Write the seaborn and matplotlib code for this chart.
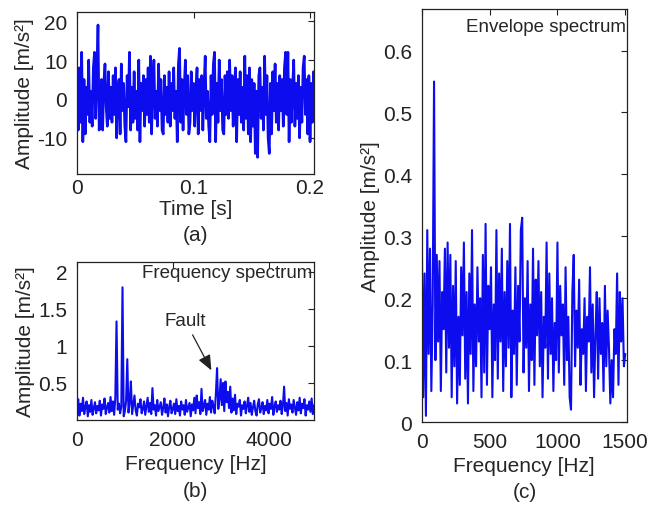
import numpy as np
import matplotlib
matplotlib.use("Agg")
import matplotlib.pyplot as plt
import seaborn as sns

# (a) vibration signal, one sample per ms
time_step = 0.001
signal = [
    7, -8, 8, -6, 12, -11, 5, -9, 3, -4,
    10, -6, 2, -7, 8, 12, -5, 6, 19, -8,
    -3, 5, -8, 4, 9, -2, -7, 7, -5, 3,
    -6, 6, -4, 8, -10, 2, 5, -9, 9, -3,
    4, -7, -11, 6, -2, 12, -8, 3, -6, 7,
    -5, 2, -8, 10, -11, 4, -3, 6, -7, 5,
    -4, 8, -6, 11, -9, 4, 10, -5, 2, -7,
    9, -3, 5, -8, -9, 6, -4, 3, -6, 7,
    -7, 4, -3, 8, -5, 2, -11, 9, 13, -6,
    5, -8, 3, 10, -4, 6, -9, -6, 7, -3,
    4, -7, 2, 8, -9, 5, -3, 6, -8, 3,
    11, -5, 2, -7, -11, 6, -4, 9, 12, -11,
    4, -6, 10, -3, 5, -8, -9, 6, -4, 7,
    -5, 10, -3, 6, -7, 3, 8, -11, 5, -4,
    7, -6, 3, -8, 11, -5, 6, -9, 8, -11,
    5, -7, 4, -14, 2, -15, 6, 8, -5, 3,
    -8, 11, -4, 6, -10, -14, 4, -9, 7, -3,
    9, -6, 4, -8, 6, -3, 5, -7, 8, 12,
    -4, 12, -11, 5, -6, 3, 10, -7, 4, -5,
    6, -10, 3, -6, 8, 11, -4, 5, -9, 6,
    -11, 4, -6, 7, 3,
]

# (b) frequency spectrum, 25 Hz bins
spec_step = 25
spectrum = [
    0.15, 0.28, 0.06, 0.22, 0.12, 0.30, 0.08, 0.18, 0.25, 0.05,
    0.20, 0.11, 0.27, 0.07, 0.16, 0.24, 0.09, 0.19, 0.13, 0.26,
    0.06, 0.21, 0.15, 0.29, 0.08, 0.17, 0.23, 0.10, 0.31, 0.12,
    0.25, 0.07, 0.30, 1.33, 0.14, 0.22, 0.09, 0.18, 1.79, 0.05,
    0.12, 0.26, 0.82, 0.10, 0.24, 0.52, 0.08, 0.20, 0.33, 0.13,
    0.06, 0.22, 0.17, 0.28, 0.09, 0.15, 0.25, 0.07, 0.19, 0.30,
    0.11, 0.23, 0.08, 0.43, 0.14, 0.20, 0.06, 0.27, 0.12, 0.18,
    0.24, 0.07, 0.16, 0.29, 0.10, 0.21, 0.05, 0.18, 0.26, 0.09,
    0.15, 0.22, 0.08, 0.28, 0.12, 0.19, 0.06, 0.25, 0.14, 0.20,
    0.07, 0.27, 0.11, 0.17, 0.23, 0.05, 0.21, 0.13, 0.30, 0.09,
    0.33, 0.16, 0.24, 0.08, 0.42, 0.12, 0.19, 0.27, 0.07, 0.22,
    0.14, 0.31, 0.10, 0.26, 0.18, 0.09, 0.35, 0.70, 0.15, 0.28,
    0.55, 0.20, 0.50, 0.12, 0.52, 0.24, 0.38, 0.16, 0.45, 0.10,
    0.29, 0.13, 0.34, 0.08, 0.22, 0.18, 0.27, 0.06, 0.20, 0.15,
    0.25, 0.09, 0.19, 0.30, 0.11, 0.23, 0.07, 0.17, 0.26, 0.12,
    0.06, 0.21, 0.28, 0.10, 0.16, 0.24, 0.08, 0.19, 0.13, 0.27,
    0.09, 0.22, 0.15, 0.31, 0.07, 0.18, 0.25, 0.11, 0.20, 0.14,
    0.26, 0.08, 0.19, 0.45, 0.12, 0.23, 0.06, 0.28, 0.15, 0.21,
    0.10, 0.27, 0.17, 0.07, 0.24, 0.13, 0.30, 0.09, 0.22, 0.16,
    0.28, 0.06, 0.20, 0.14, 0.25, 0.11, 0.29, 0.08, 0.19, 0.23,
    0.12,
]

# (c) envelope spectrum, 10 Hz bins
env_step = 10
envelope = [
    0.29, 0.04, 0.24, 0.01, 0.31, 0.11, 0.28, 0.05, 0.19, 0.55,
    0.10, 0.27, 0.13, 0.26, 0.05, 0.21, 0.15, 0.28, 0.08, 0.29,
    0.12, 0.27, 0.04, 0.22, 0.09, 0.26, 0.03, 0.17, 0.06, 0.25,
    0.14, 0.29, 0.07, 0.21, 0.03, 0.24, 0.11, 0.31, 0.05, 0.19,
    0.09, 0.25, 0.13, 0.20, 0.04, 0.27, 0.08, 0.32, 0.06, 0.22,
    0.15, 0.25, 0.04, 0.19, 0.10, 0.31, 0.07, 0.24, 0.13, 0.28,
    0.05, 0.21, 0.09, 0.26, 0.12, 0.32, 0.04, 0.18, 0.11, 0.25,
    0.06, 0.22, 0.13, 0.31, 0.33, 0.08, 0.20, 0.12, 0.26, 0.05,
    0.19, 0.10, 0.28, 0.06, 0.23, 0.14, 0.26, 0.09, 0.21, 0.04,
    0.17, 0.12, 0.29, 0.07, 0.24, 0.11, 0.20, 0.05, 0.16, 0.10,
    0.29, 0.08, 0.22, 0.14, 0.19, 0.06, 0.25, 0.10, 0.17, 0.04,
    0.02, 0.21, 0.27, 0.09, 0.18, 0.12, 0.23, 0.06, 0.15, 0.11,
    0.20, 0.05, 0.17, 0.13, 0.25, 0.08, 0.19, 0.04, 0.14, 0.21,
    0.07, 0.20, 0.11, 0.16, 0.05, 0.22, 0.09, 0.18, 0.12, 0.03,
    0.10, 0.04, 0.15, 0.11, 0.24, 0.06, 0.21, 0.13, 0.20, 0.09,
    0.11,
]

a_xticks = [0, 0.1, 0.2]
a_xticklabels = ["0", "0.1", "0.2"]
a_yticks = [-10, 0, 10, 20]
b_xticks = [0, 2000, 4000]
b_yticks = [0.5, 1, 1.5, 2]
b_yticklabels = ["0.5", "1", "1.5", "2"]
c_xticks = [0, 500, 1000, 1500]
c_yticks = [0, 0.1, 0.2, 0.3, 0.4, 0.5, 0.6]
c_yticklabels = ["0", "0.1", "0.2", "0.3", "0.4", "0.5", "0.6"]

ylab = "Amplitude [m/s²]"

sns.set_style("white")
plt.rcParams['font.family'] = ['Liberation Sans', 'DejaVu Sans']
plt.rcParams['axes.unicode_minus'] = False

t = np.arange(len(signal)) * time_step
f_spec = np.arange(len(spectrum)) * spec_step
f_env = np.arange(len(envelope)) * env_step

blue = "#0c0cee"

fig = plt.figure(figsize=(6.5, 5.06), dpi=100)
ax_a = fig.add_axes([0.1185, 0.654, 0.3646, 0.320])
ax_b = fig.add_axes([0.1185, 0.168, 0.3646, 0.312])
ax_c = fig.add_axes([0.649, 0.164, 0.315, 0.816])

sns.lineplot(x=t, y=signal, ax=ax_a, color=blue, linewidth=1.9, estimator=None)
sns.lineplot(x=f_spec, y=spectrum, ax=ax_b, color=blue, linewidth=1.5, estimator=None)
sns.lineplot(x=f_env, y=envelope, ax=ax_c, color=blue, linewidth=1.5, estimator=None)

ax_a.set_xlim(0, 0.2034)
ax_a.set_ylim(-19.3, 22.3)
ax_a.set_xticks(a_xticks)
ax_a.set_xticklabels(a_xticklabels)
ax_a.set_yticks(a_yticks)
ax_a.set_xlabel("Time [s]", fontsize=15, labelpad=1)
ax_a.tick_params(axis="x", pad=3)

ax_b.set_xlim(0, 4950)
ax_b.set_ylim(0.0, 2.13)
ax_b.set_xticks(b_xticks)
ax_b.set_yticks(b_yticks)
ax_b.set_yticklabels(b_yticklabels)
ax_b.set_xlabel("Frequency [Hz]", fontsize=15, labelpad=4)
ax_b.tick_params(axis="x", pad=7)
ax_b.text(0.995, 0.937, "Frequency spectrum", transform=ax_b.transAxes,
          ha="right", va="center", fontsize=13.5)
ax_b.annotate("Fault", xy=(2806, 0.67), xytext=(2257, 1.34),
              ha="center", va="center", fontsize=13.5,
              arrowprops=dict(arrowstyle="-|>,head_length=0.4,head_width=0.17",
                              color="#222222", lw=0.9, mutation_scale=23,
                              shrinkA=2, shrinkB=0))

ax_c.set_xlim(0, 1510)
ax_c.set_ylim(0, 0.667)
ax_c.set_xticks(c_xticks)
ax_c.set_yticks(c_yticks)
ax_c.set_yticklabels(c_yticklabels)
ax_c.set_xlabel("Frequency [Hz]", fontsize=15, labelpad=4)
ax_c.tick_params(axis="x", pad=7)
ax_c.text(0.995, 0.959, "Envelope spectrum", transform=ax_c.transAxes,
          ha="right", va="center", fontsize=13.5)

for ax in (ax_a, ax_b, ax_c):
    ax.set_ylabel(ylab, fontsize=15, labelpad=2)
    ax.tick_params(direction="in", top=True, right=True, length=4, width=0.8,
                   labelsize=15, colors="#222222")
    ax.tick_params(axis="y", pad=7)
    for sp in ax.spines.values():
        sp.set_color("#222222")
        sp.set_linewidth(0.9)

fig.text(0.301, 0.534, "(a)", ha="center", va="center", fontsize=15)
fig.text(0.301, 0.028, "(b)", ha="center", va="center", fontsize=15)
fig.text(0.807, 0.026, "(c)", ha="center", va="center", fontsize=15)

fig.savefig("out.png", dpi=100)
